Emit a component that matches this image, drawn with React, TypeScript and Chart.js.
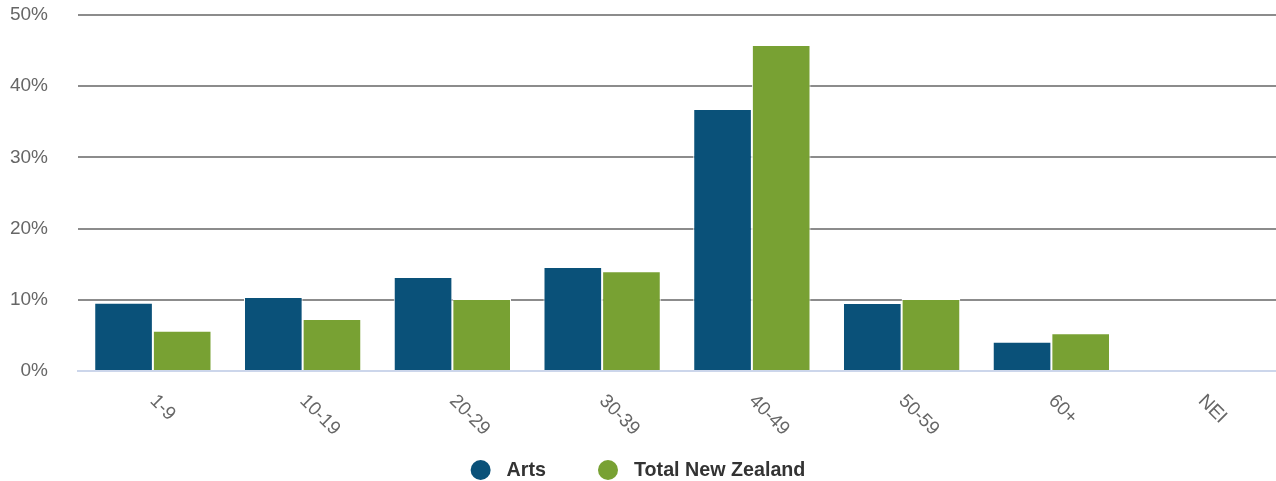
import React, { useEffect, useRef } from "react";
import { Chart, registerables } from "chart.js";

Chart.register(...registerables);

const categories = ["1-9", "10-19", "20-29", "30-39", "40-49", "50-59", "60+", "NEI"];
const artsValues = [9.6, 10.4, 13.2, 14.6, 36.8, 9.55, 4.1, 0];
const totalNZValues = [5.66, 7.3, 10.1, 14.0, 45.8, 10.1, 5.3, 0];
const yTickMax = 50;
const yTickStep = 10;
const seriesNames = ["Arts", "Total New Zealand"];
const seriesColors = ["#0a5179", "#78a133"];

const FONT = "'Liberation Sans', Arial, Helvetica, sans-serif";

const xLabelPlugin = {
  id: "rotatedXLabels",
  afterDraw(chart: any) {
    const ctx = chart.ctx;
    const xScale = chart.scales.x;
    const labels = chart.data.labels as string[];
    ctx.save();
    ctx.font = `19px ${FONT}`;
    ctx.fillStyle = "#666666";
    ctx.textAlign = "left";
    ctx.textBaseline = "middle";
    labels.forEach((lab, i) => {
      const x = xScale.getPixelForTick(i);
      const y = chart.chartArea.bottom + 27;
      ctx.save();
      ctx.translate(x, y);
      ctx.rotate(Math.PI / 4);
      ctx.fillText(lab, 0, 0);
      ctx.restore();
    });
    ctx.restore();
  },
};

const legendPlugin = {
  id: "customLegend",
  afterDraw(chart: any) {
    const ctx = chart.ctx;
    ctx.save();
    ctx.font = `bold 19.7px ${FONT}`;
    const r = 10;
    const circleToText = 16;
    const itemGap = 52;
    const items = chart.data.datasets.map((d: any) => ({
      label: d.label,
      color: d.backgroundColor,
      w: ctx.measureText(d.label).width,
    }));
    let total = 0;
    items.forEach((it: any, i: number) => {
      total += 2 * r + circleToText + it.w;
      if (i < items.length - 1) total += itemGap;
    });
    let x = chart.width / 2 - total / 2;
    const cy = 470;
    items.forEach((it: any) => {
      ctx.beginPath();
      ctx.fillStyle = it.color;
      ctx.arc(x + r, cy, r, 0, Math.PI * 2);
      ctx.fill();
      ctx.fillStyle = "#333333";
      ctx.textAlign = "left";
      ctx.textBaseline = "middle";
      ctx.fillText(it.label, x + 2 * r + circleToText, cy + 1);
      x += 2 * r + circleToText + it.w + itemGap;
    });
    ctx.restore();
  },
};

export default function App() {
  const canvasRef = useRef<HTMLCanvasElement | null>(null);

  useEffect(() => {
    if (!canvasRef.current) return;
    const chart = new Chart(canvasRef.current, {
      type: "bar",
      data: {
        labels: categories,
        datasets: [
          {
            label: seriesNames[0],
            data: artsValues,
            backgroundColor: seriesColors[0],
            borderColor: "#ffffff",
            borderWidth: 1,
            categoryPercentage: 0.783,
            barPercentage: 1,
          },
          {
            label: seriesNames[1],
            data: totalNZValues,
            backgroundColor: seriesColors[1],
            borderColor: "#ffffff",
            borderWidth: 1,
            categoryPercentage: 0.783,
            barPercentage: 1,
          },
        ],
      },
      options: {
        animation: false,
        responsive: false,
        devicePixelRatio: 1,
        layout: { padding: { top: 15, right: 0, left: 0, bottom: 0 } },
        plugins: {
          legend: { display: false },
          tooltip: { enabled: false },
        },
        scales: {
          x: {
            grid: { display: false },
            border: { display: true, color: "#ccd6eb", width: 2 },
            ticks: { display: false },
            afterFit: (s: any) => {
              s.height = 110;
            },
          },
          y: {
            min: 0,
            max: yTickMax,
            ticks: {
              stepSize: yTickStep,
              padding: 0,
              color: "#666666",
              font: { family: FONT, size: 19 },
              callback: (v: any) => `${v}%`,
            },
            grid: {
              drawTicks: true,
              tickLength: 30,
              tickColor: "rgba(0,0,0,0)",
              lineWidth: 2,
              color: (c: any) => (c.tick && c.tick.value === 0 ? "rgba(0,0,0,0)" : "#8c8c8c"),
            },
            border: { display: false },
            afterFit: (s: any) => {
              s.width = 78;
            },
          },
        },
      },
      plugins: [xLabelPlugin, legendPlugin],
    });
    return () => chart.destroy();
  }, []);

  return (
    <div style={{ position: "fixed", left: 0, top: 0, width: 1276, height: 481, background: "#ffffff" }}>
      <canvas ref={canvasRef} width={1276} height={481} style={{ display: "block" }} />
    </div>
  );
}
